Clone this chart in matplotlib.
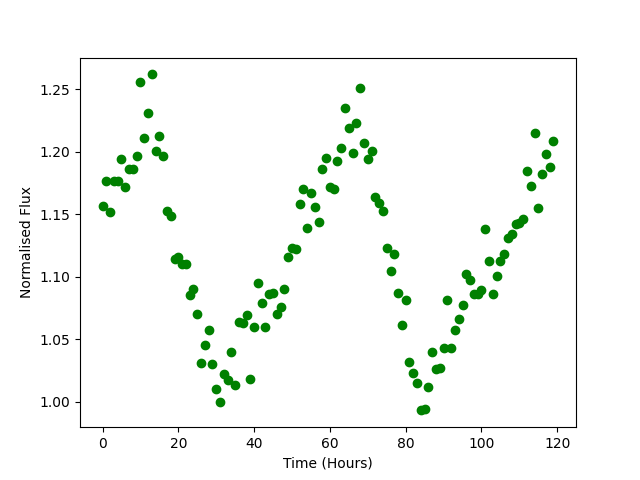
import matplotlib
matplotlib.use("Agg")
import matplotlib.pyplot as plt
import numpy as np

# time in hours, one sample per hour
time = np.arange(120)

flux = [1.157, 1.177, 1.152, 1.177, 1.177, 1.194, 1.172, 1.186, 1.186, 1.197,
        1.256, 1.211, 1.231, 1.262, 1.201, 1.213, 1.197, 1.153, 1.149, 1.114,
        1.116, 1.110, 1.110, 1.085, 1.090, 1.070, 1.031, 1.045, 1.057, 1.030,
        1.010, 1.000, 1.022, 1.017, 1.040, 1.013, 1.064, 1.063, 1.069, 1.018,
        1.060, 1.095, 1.079, 1.060, 1.086, 1.087, 1.070, 1.076, 1.090, 1.116,
        1.123, 1.122, 1.158, 1.170, 1.139, 1.167, 1.156, 1.144, 1.186, 1.195,
        1.172, 1.170, 1.193, 1.203, 1.235, 1.219, 1.199, 1.223, 1.251, 1.207,
        1.194, 1.201, 1.164, 1.159, 1.153, 1.123, 1.105, 1.118, 1.087, 1.061,
        1.081, 1.032, 1.023, 1.015, 0.993, 0.994, 1.012, 1.040, 1.026, 1.027,
        1.043, 1.081, 1.043, 1.057, 1.066, 1.077, 1.102, 1.097, 1.086, 1.086,
        1.089, 1.138, 1.113, 1.086, 1.101, 1.113, 1.118, 1.131, 1.134, 1.142,
        1.143, 1.146, 1.185, 1.173, 1.215, 1.155, 1.182, 1.198, 1.188, 1.209]

plt.figure(figsize=(6.4, 4.8), dpi=100)
plt.plot(time, flux, 'go')
plt.xlabel("Time (Hours)")
plt.ylabel("Normalised Flux")
plt.savefig("out.png")
